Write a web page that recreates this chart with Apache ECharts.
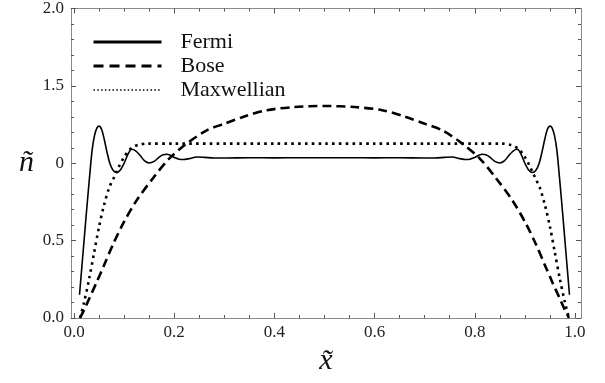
<!DOCTYPE html>
<html>
<head>
<meta charset="utf-8">
<script src="https://cdn.jsdelivr.net/npm/echarts@6/dist/echarts.min.js"></script>
<style>html,body{margin:0;padding:0;background:#fff}#c{width:605px;height:383px}</style>
</head>
<body>
<div id="c"></div>
<script>
// ---- data ----
const fermiX = [0.011,0.018,0.025,0.031,0.036,0.041,0.046,0.050,0.055,0.060,0.066,0.072,0.078,0.085,0.092,0.100,0.108,0.115,0.123,0.132,0.141,0.150,0.160,0.170,0.178,0.185,0.193,0.202,0.210,0.218,0.230,0.245,0.260,0.280,0.300,0.350,0.400,0.450,0.500,0.550,0.600,0.650,0.700,0.720,0.740,0.755,0.770,0.782,0.790,0.798,0.807,0.815,0.822,0.830,0.840,0.850,0.859,0.868,0.877,0.885,0.892,0.900,0.908,0.915,0.922,0.928,0.934,0.940,0.945,0.950,0.954,0.959,0.964,0.969,0.975,0.982,0.989];
const fermiY = [0.15,0.42,0.69,0.91,1.08,1.18,1.23,1.24,1.22,1.16,1.07,0.995,0.955,0.94,0.955,1.00,1.06,1.09,1.08,1.05,1.015,1.002,1.012,1.04,1.055,1.058,1.05,1.035,1.026,1.024,1.03,1.04,1.038,1.034,1.034,1.036,1.035,1.036,1.036,1.036,1.035,1.036,1.034,1.034,1.038,1.04,1.03,1.024,1.026,1.035,1.05,1.058,1.055,1.04,1.012,1.002,1.015,1.05,1.08,1.09,1.06,1.00,0.955,0.94,0.955,0.995,1.07,1.16,1.22,1.24,1.23,1.18,1.08,0.91,0.69,0.42,0.15];

const boseX = [0.012,0.022,0.032,0.045,0.0585,0.0785,0.098,0.125,0.158,0.19,0.225,0.265,0.30,0.34,0.385,0.44,0.50,0.56,0.615,0.66,0.70,0.735,0.775,0.81,0.842,0.875,0.902,0.9215,0.9415,0.955,0.968,0.978,0.988];
const boseY = [0.0,0.065,0.137,0.23,0.33,0.48,0.61,0.76,0.905,1.03,1.127,1.213,1.255,1.302,1.343,1.363,1.37,1.363,1.343,1.302,1.255,1.213,1.127,1.03,0.905,0.76,0.61,0.48,0.33,0.23,0.137,0.065,0.0];

const maxwellX = [0.012,0.02,0.03,0.04,0.05,0.06,0.07,0.08,0.085,0.09,0.10,0.11,0.12,0.13,0.145,0.20,0.30,0.40,0.50,0.60,0.70,0.80,0.855,0.87,0.88,0.89,0.90,0.91,0.915,0.92,0.93,0.94,0.95,0.96,0.97,0.98,0.988];
const maxwellY = [0.0,0.10,0.25,0.42,0.59,0.73,0.84,0.91,0.945,0.98,1.04,1.085,1.108,1.12,1.127,1.127,1.127,1.127,1.127,1.127,1.127,1.127,1.127,1.12,1.108,1.085,1.04,0.98,0.945,0.91,0.84,0.73,0.59,0.42,0.25,0.10,0.0];

const seriesNames = ['Fermi','Bose','Maxwellian'];
const xMajorTicks = [0,0.2,0.4,0.6,0.8,1.0];
const xTickLabels = ['0.0','0.2','0.4','0.6','0.8','1.0'];
const xMinorTicks = [0.05,0.1,0.15,0.25,0.3,0.35,0.45,0.5,0.55,0.65,0.7,0.75,0.85,0.9,0.95];
const yMajorTicks = [0,0.5,1.0,1.5,2.0];
const yTickLabels = ['0.0','0.5','0','1.5','2.0'];
const yMinorTicks = [0.1,0.2,0.3,0.4,0.6,0.7,0.8,0.9,1.1,1.2,1.3,1.4,1.6,1.7,1.8,1.9];

// ---- build ----
const zip = (xs, ys) => xs.map((x, i) => [x, ys[i]]);
const XMIN = -0.006, XMAX = 1.012, YMIN = 0, YMAX = 2.0;
const FONT = '"Liberation Serif", "DejaVu Serif", serif';
const lineCol = '#8a8a8a', tickCol = '#555';

function findIdx(arr, v){ let b=0; for(let i=1;i<arr.length;i++){ if(Math.abs(arr[i]-v)<Math.abs(arr[b]-v)) b=i; } return b; }

function xAx(pos, major, labels){
  return {
    type:'value', position:pos, min:XMIN, max:XMAX, offset:0,
    axisLine:{show:major, onZero:false, lineStyle:{color:lineCol, width:1}},
    axisTick:{show:true, inside:true, length: major?5:3, customValues: major?xMajorTicks:xMinorTicks, lineStyle:{color:tickCol, width:1}},
    axisLabel:{show:labels, customValues:xMajorTicks, margin:6, color:'#222', fontFamily:FONT, fontSize:17,
      formatter:(v)=>xTickLabels[findIdx(xMajorTicks,v)]},
    splitLine:{show:false},
    name: (labels ? 'x\u0303' : ''), nameLocation:'middle', nameGap:18,
    nameTextStyle:{fontFamily:FONT, fontStyle:'italic', fontSize:30, color:'#111'}
  };
}
function yAx(pos, major, labels){
  return {
    type:'value', position:pos, min:YMIN, max:YMAX, offset:0,
    axisLine:{show:major, onZero:false, lineStyle:{color:lineCol, width:1}},
    axisTick:{show:true, inside:true, length: major?5:3, customValues: major?yMajorTicks:yMinorTicks, lineStyle:{color:tickCol, width:1}},
    axisLabel:{show:labels, customValues:yMajorTicks, margin:7, color:'#222', fontFamily:FONT, fontSize:17,
      formatter:(v)=>yTickLabels[findIdx(yMajorTicks,v)]},
    splitLine:{show:false},
    name: (labels ? '\u00f1' : ''), nameLocation:'middle', nameRotate:0, nameGap:37,
    nameTextStyle:{fontFamily:FONT, fontStyle:'italic', fontSize:30, color:'#111'}
  };
}

const chart = echarts.init(document.getElementById('c'), null, {renderer:'canvas'});
chart.setOption({
  animation:false,
  backgroundColor:'#fff',
  grid:{left:71, right:24, top:7, bottom:65, containLabel:false},
  xAxis:[xAx('bottom',true,true), xAx('bottom',false,false), xAx('top',true,false), xAx('top',false,false)],
  yAxis:[yAx('left',true,true), yAx('left',false,false), yAx('right',true,false), yAx('right',false,false)],
  legend:{
    orient:'vertical', left:92, top:31, padding:0, itemWidth:68, itemHeight:14, itemGap:2,
    itemStyle:{opacity:0, borderWidth:0},
    textStyle:{fontFamily:FONT, fontSize:22, color:'#111', padding:[0,0,0,14]},
    data:[
      {name:seriesNames[0], lineStyle:{width:3, type:'solid', color:'#000'}},
      {name:seriesNames[1], lineStyle:{width:3, type:[10,6], color:'#000'}},
      {name:seriesNames[2], lineStyle:{width:1.4, type:[1.5,2.3], color:'#000'}}
    ]
  },
  series:[
    {name:seriesNames[0], type:'line', xAxisIndex:0, yAxisIndex:0, data:zip(fermiX,fermiY), symbol:'none', smooth:0.3,
     lineStyle:{color:'#000', width:1.6, type:'solid'}, itemStyle:{color:'#000'}},
    {name:seriesNames[1], type:'line', xAxisIndex:0, yAxisIndex:0, data:zip(boseX,boseY), symbol:'none', smooth:0.3,
     lineStyle:{color:'#000', width:2.6, type:[9,5]}, itemStyle:{color:'#000'}},
    {name:seriesNames[2], type:'line', xAxisIndex:0, yAxisIndex:0, data:zip(maxwellX,maxwellY), symbol:'none', smooth:0.3,
     lineStyle:{color:'#000', width:2.6, type:[2.6,4.2]}, itemStyle:{color:'#000'}}
  ]
});
</script>
</body>
</html>
